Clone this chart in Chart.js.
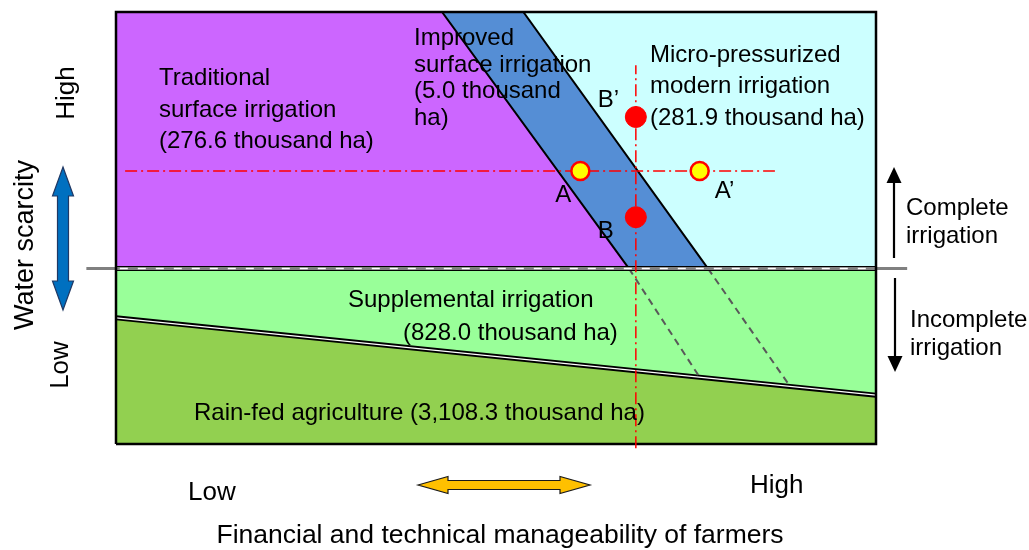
<!DOCTYPE html>
<html lang="en">
<head>
<meta charset="UTF-8">
<title>Irrigation types by water scarcity and farmer manageability</title>
<style>
  body { margin: 0; background: #fff; }
  #chart { display: block; }
</style>
</head>
<body>
<canvas id="chart" width="1029" height="550"></canvas>
<script src="https://cdn.jsdelivr.net/npm/chart.js"></script>
<script>
// regions and their areas (thousand ha)
const regionNames = [
    ['Traditional', 'surface irrigation'],
    ['Improved', 'surface irrigation'],
    ['Micro-pressurized', 'modern irrigation'],
    ['Supplemental irrigation'],
    ['Rain-fed agriculture']
];
const regionAreas = [276.6, 5.0, 281.9, 828.0, 3108.3];

// boundaries, in % of each axis (x = manageability, y = water scarcity)
const splitLevel = 40.6;              // complete / incomplete irrigation
const traditionalEdgeX = [42.9, 67.5]; // at top, at split level
const modernEdgeX = [53.6, 77.9];
const rainfedEdgeY = [29.2, 11.3];     // at x = 0, at x = 100
const extendedEdgeX = [76.8, 88.7];    // dashed continuations end here

// example farms
const pointNames = ['A', 'A\u2019', 'B\u2019', 'B'];
const pointX = [61.1, 76.8, 68.4, 68.4];
const pointY = [63.2, 63.2, 75.7, 52.5];
const guideSpanX = [1.2, 86.7];
const guideSpanY = [-1.0, 87.7];

const FONT = '"Liberation Sans", Arial, sans-serif';

function areaText(i) {
    return '(' + regionAreas[i].toLocaleString('en-US', { minimumFractionDigits: 1 }) + ' thousand ha)';
}

function rainfedAt(x) {
    return rainfedEdgeY[0] + (rainfedEdgeY[1] - rainfedEdgeY[0]) * x / 100;
}

function pts(xs, ys) {
    return xs.map((x, i) => ({ x: x, y: ys[i] }));
}

function shape(data, opts) {
    return Object.assign({
        data: data,
        pointRadius: 0,
        tension: 0,
        fill: false,
        borderColor: 'transparent',
        borderWidth: 0
    }, opts);
}

const datasets = [
    // lower half, then the upper regions painted over each other
    shape(pts([0, 100], [splitLevel, splitLevel]), { fill: { value: 0 }, backgroundColor: '#99FF99', order: 12 }),
    shape(pts([0, 100], rainfedEdgeY), { fill: { value: 0 }, backgroundColor: '#92D050', borderColor: '#000', borderWidth: 5, order: 11 }),
    shape(pts([0, 100], rainfedEdgeY), { borderColor: '#fff', borderWidth: 1.2, order: 10 }),
    shape(pts([traditionalEdgeX[1], extendedEdgeX[0]], [splitLevel, rainfedAt(extendedEdgeX[0])]),
        { borderColor: '#595959', borderWidth: 2, borderDash: [7, 5], order: 9 }),
    shape(pts([modernEdgeX[1], extendedEdgeX[1]], [splitLevel, rainfedAt(extendedEdgeX[1])]),
        { borderColor: '#595959', borderWidth: 2, borderDash: [7, 5], order: 9 }),
    shape(pts([0, 100], [100, 100]), { fill: { value: splitLevel }, backgroundColor: '#CCFFFF', order: 8 }),
    shape(pts([0, modernEdgeX[0], modernEdgeX[1]], [100, 100, splitLevel]),
        { fill: { value: splitLevel }, backgroundColor: '#558ED5', borderColor: '#000', borderWidth: 2, order: 7 }),
    shape(pts([0, traditionalEdgeX[0], traditionalEdgeX[1]], [100, 100, splitLevel]),
        { fill: { value: splitLevel }, backgroundColor: '#CC66FF', borderColor: '#000', borderWidth: 2, order: 6 }),
    // split line: black band, grey line reaching outside the frame, white dashes
    shape(pts([0, 100], [splitLevel, splitLevel]), { borderColor: '#000', borderWidth: 5, order: 5 }),
    shape(pts([-3.9, 104.1], [splitLevel, splitLevel]), { borderColor: '#808080', borderWidth: 3, clip: false, order: 4 }),
    shape(pts([0.5, 100], [splitLevel, splitLevel]), { borderColor: '#fff', borderWidth: 1.5, borderDash: [8, 10], order: 3 }),
    // frame
    shape(pts([0, 100, 100, 0, 0], [0, 0, 100, 100, 0]), { borderColor: '#000', borderWidth: 2.5, clip: false, order: 2 }),
    // red guides through the example farms
    shape(pts(guideSpanX, [pointY[0], pointY[0]]), { borderColor: '#FF0000', borderWidth: 1.5, borderDash: [12, 4, 2, 4], clip: false, order: 1 }),
    shape(pts([pointX[2], pointX[2]], guideSpanY), { borderColor: '#FF0000', borderWidth: 1.5, borderDash: [12, 4, 2, 4], clip: false, order: 1 }),
    {
        data: pts(pointX, pointY),
        showLine: false,
        pointRadius: [9, 9, 10.5, 10.5],
        pointBackgroundColor: ['#FFFF00', '#FFFF00', '#FF0000', '#FF0000'],
        pointBorderColor: '#FF0000',
        pointBorderWidth: [2.5, 2.5, 1, 1],
        clip: false,
        order: 0
    }
];
const POINTS = datasets.length - 1;

function lines(ctx, texts, x, baselines) {
    texts.forEach((t, i) => ctx.fillText(t, x, baselines[i]));
}

function rotated(ctx, text, x, y) {
    ctx.save();
    ctx.translate(x, y);
    ctx.rotate(-Math.PI / 2);
    ctx.textAlign = 'center';
    ctx.fillText(text, 0, 0);
    ctx.restore();
}

function doubleArrow(ctx, cx, cy, length, angle, head, headHalf, shaftHalf, fill, stroke) {
    const h = length / 2;
    ctx.save();
    ctx.translate(cx, cy);
    ctx.rotate(angle);
    ctx.beginPath();
    ctx.moveTo(-h, 0);
    ctx.lineTo(-h + head, -headHalf);
    ctx.lineTo(-h + head, -shaftHalf);
    ctx.lineTo(h - head, -shaftHalf);
    ctx.lineTo(h - head, -headHalf);
    ctx.lineTo(h, 0);
    ctx.lineTo(h - head, headHalf);
    ctx.lineTo(h - head, shaftHalf);
    ctx.lineTo(-h + head, shaftHalf);
    ctx.lineTo(-h + head, headHalf);
    ctx.closePath();
    ctx.fillStyle = fill;
    ctx.fill();
    ctx.strokeStyle = stroke;
    ctx.lineWidth = 1.2;
    ctx.stroke();
    ctx.restore();
}

function lineArrow(ctx, x, yFrom, yTo) {
    const dir = yTo < yFrom ? -1 : 1;
    ctx.beginPath();
    ctx.moveTo(x, yFrom);
    ctx.lineTo(x, yTo - dir * 14);
    ctx.strokeStyle = '#000';
    ctx.lineWidth = 2.2;
    ctx.stroke();
    ctx.beginPath();
    ctx.moveTo(x, yTo);
    ctx.lineTo(x - 7.5, yTo - dir * 16);
    ctx.lineTo(x + 7.5, yTo - dir * 16);
    ctx.closePath();
    ctx.fillStyle = '#000';
    ctx.fill();
}

const annotations = {
    id: 'annotations',
    afterDatasetsDraw(chart) {
        const ctx = chart.ctx;
        ctx.save();
        ctx.fillStyle = '#000';
        ctx.textBaseline = 'alphabetic';
        ctx.textAlign = 'left';

        // region labels
        ctx.font = '24px ' + FONT;
        lines(ctx, [...regionNames[0], areaText(0)], 159, [85, 117, 148]);
        const improved = areaText(1);
        lines(ctx, [...regionNames[1], improved.replace(' ha)', ''), 'ha)'], 414, [45, 72, 98, 125]);
        lines(ctx, [...regionNames[2], areaText(2)], 650, [62, 93, 125]);
        ctx.fillText(regionNames[3][0], 348, 307);
        ctx.fillText(areaText(3), 403, 340);
        ctx.fillText(regionNames[4][0] + ' ' + areaText(4), 194, 420);

        // farm letters beside their markers
        const offsets = [[-25, 31], [15, 27], [-38, -10], [-38, 21]];
        chart.getDatasetMeta(POINTS).data.forEach((el, i) => {
            ctx.fillText(pointNames[i], el.x + offsets[i][0], el.y + offsets[i][1]);
        });

        // right side
        lines(ctx, ['Complete', 'irrigation'], 906, [215, 243]);
        lines(ctx, ['Incomplete', 'irrigation'], 910, [327, 355]);
        lineArrow(ctx, 894, 258, 167);
        lineArrow(ctx, 895, 278, 372);

        // left side
        ctx.font = '26px ' + FONT;
        rotated(ctx, 'High', 74, 93);
        rotated(ctx, 'Low', 68, 365);
        ctx.font = '27px ' + FONT;
        rotated(ctx, 'Water scarcity', 33, 245);
        doubleArrow(ctx, 63, 238.5, 143, Math.PI / 2, 29, 10.5, 5.5, '#0070C0', '#1F3864');

        // bottom
        ctx.font = '26px ' + FONT;
        ctx.fillText('Low', 188, 500);
        ctx.fillText('High', 750, 493);
        ctx.textAlign = 'center';
        ctx.font = '26.5px ' + FONT;
        ctx.fillText('Financial and technical manageability of farmers', 500, 543);
        doubleArrow(ctx, 504, 485, 172, 0, 30, 8.5, 4.5, '#FFC000', '#1a1a1a');

        ctx.restore();
    }
};

new Chart(document.getElementById('chart'), {
    type: 'line',
    data: { datasets: datasets },
    options: {
        responsive: false,
        animation: false,
        events: [],
        layout: { padding: { left: 116, top: 12, right: 153, bottom: 106 } },
        scales: {
            x: { type: 'linear', min: 0, max: 100, display: false },
            y: { type: 'linear', min: 0, max: 100, display: false }
        },
        plugins: {
            legend: { display: false },
            tooltip: { enabled: false }
        }
    },
    plugins: [annotations]
});
</script>
</body>
</html>
